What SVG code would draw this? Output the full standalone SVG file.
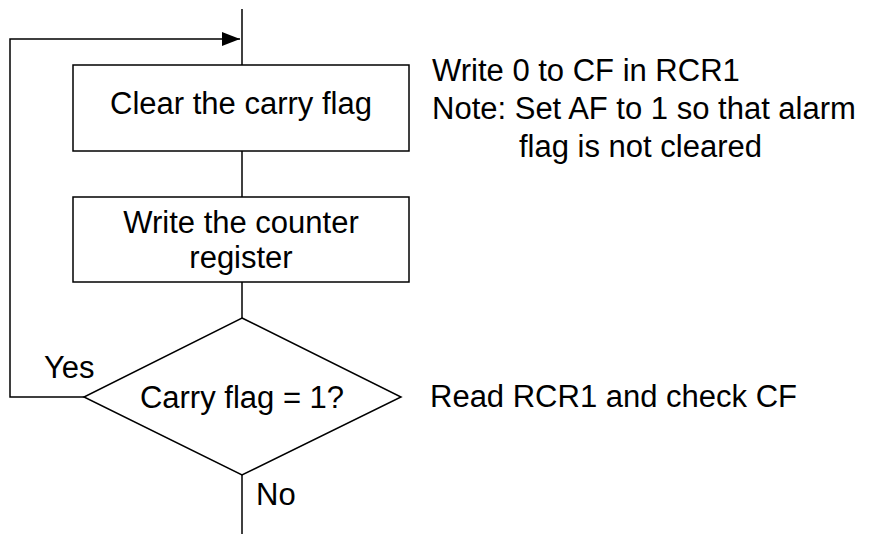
<svg xmlns="http://www.w3.org/2000/svg" width="870" height="534" viewBox="0 0 870 534">
<style>
  .shape { fill: #ffffff; stroke: #000000; stroke-width: 1.5; }
  .line { fill: none; stroke: #000000; stroke-width: 1.5; }
  text { font-family: "Liberation Sans", Arial, sans-serif; font-size: 31px; fill: #000000; }
  .c { text-anchor: middle; }
</style>
<defs>
  <marker id="arrow" viewBox="0 0 18 14" refX="18" refY="7" markerWidth="18" markerHeight="14" markerUnits="userSpaceOnUse" orient="auto">
    <path d="M0,0 L18,7 L0,14 Z" fill="#000000"/>
  </marker>
</defs>
<g id="connectors">
  <line class="line" x1="242" y1="9" x2="242" y2="65"/>
  <line class="line" x1="242" y1="151" x2="242" y2="197"/>
  <line class="line" x1="242" y1="282" x2="242" y2="318"/>
  <line class="line" x1="242" y1="475" x2="242" y2="534"/>
  <polyline class="line" points="84,397 10,397 10,39 240,39" marker-end="url(#arrow)"/>
  <text x="44" y="378">Yes</text>
  <text x="256" y="505">No</text>
</g>
<g id="clear-carry">
  <rect class="shape" x="73" y="65" width="336" height="86"/>
  <text class="c" x="241" y="114">Clear the carry flag</text>
</g>
<g id="write-counter">
  <rect class="shape" x="73" y="197" width="336" height="85"/>
  <text class="c" x="241" y="233">Write the counter</text>
  <text class="c" x="241" y="268">register</text>
</g>
<g id="carry-check">
  <polygon class="shape" points="242,318 401,397 242,475 84,397"/>
  <text class="c" x="242" y="408">Carry flag = 1?</text>
</g>
<g id="note-clear">
  <text x="432" y="81">Write 0 to CF in RCR1</text>
  <text x="432" y="119">Note: Set AF to 1 so that alarm</text>
  <text x="519" y="157">flag is not cleared</text>
</g>
<g id="note-read">
  <text x="430" y="407">Read RCR1 and check CF</text>
</g>
</svg>
